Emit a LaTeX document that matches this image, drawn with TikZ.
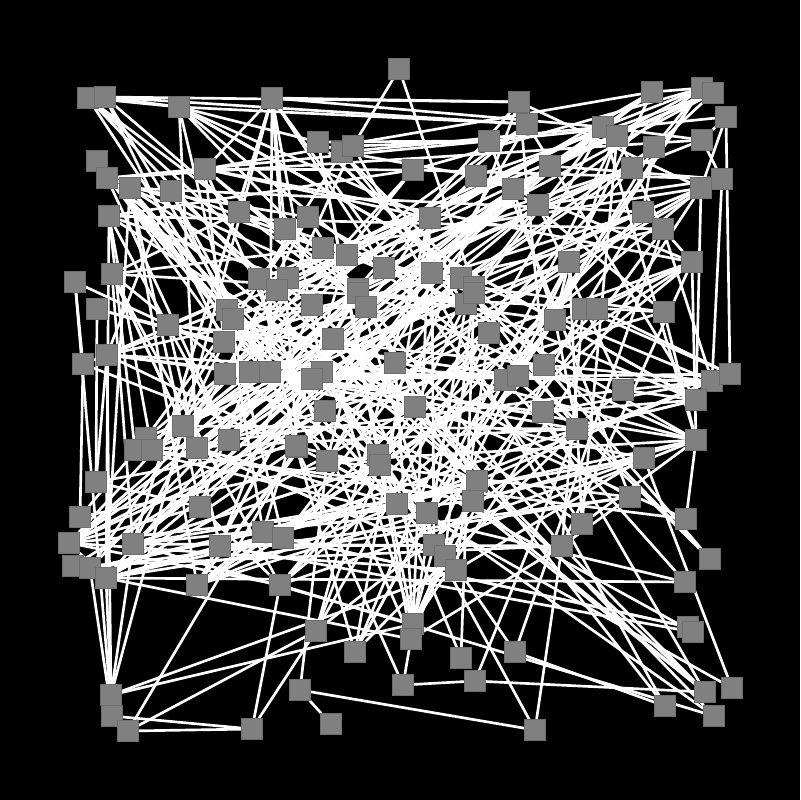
\documentclass[tikz,border=0pt]{standalone}
\usetikzlibrary{backgrounds}
\pgfdeclarelayer{back}
\pgfdeclarelayer{edges}
\pgfsetlayers{back,edges,main}
\definecolor{ndgray}{RGB}{128,128,128}
\definecolor{ndline}{RGB}{110,110,110}
\tikzset{
  nd/.style={rectangle,fill=ndgray,draw=ndline,line width=0.25pt,minimum size=6.3mm,inner sep=0pt},
  edge/.style={white,line width=0.8mm}
}
\begin{document}
\begin{tikzpicture}[x=0.3mm,y=-0.3mm]
\begin{pgfonlayer}{back}
\fill[black] (0,0) rectangle (800,800);
\end{pgfonlayer}
\useasboundingbox (0,0) rectangle (800,800);
\foreach \i/\x/\y in {
1/399/69, 2/88/98, 3/105/97, 4/179/107, 5/272/98, 6/519/102, 7/527/124, 8/652/92, 9/702/88, 10/713/93,
11/726/117, 12/654/147, 13/702/140, 14/722/179, 15/701/188, 16/603/127, 17/617/136, 18/550/166, 19/632/168, 20/643/212,
21/663/229, 22/692/262, 23/569/262, 24/538/205, 25/97/161, 26/107/178, 27/130/188, 28/171/191, 29/205/169, 30/109/216,
31/239/212, 32/285/229, 33/75/282, 34/112/274, 35/259/279, 36/288/278, 37/277/290, 38/318/142, 39/342/152, 40/353/146,
41/413/170, 42/489/141, 43/476/176, 44/513/189, 45/308/217, 46/430/218, 47/323/248, 48/347/255, 49/384/268, 50/432/273,
51/461/278, 52/474/287, 53/358/289, 54/97/309, 55/168/325, 56/227/310, 57/233/319, 58/224/342, 59/83/364, 60/107/355,
61/225/374, 62/250/372, 63/270/372, 64/183/426, 65/146/438, 66/135/450, 67/152/450, 68/197/448, 69/229/440, 70/297/447,
71/96/482, 72/80/517, 73/69/543, 74/73/566, 75/90/568, 76/106/578, 77/133/544, 78/220/546, 79/197/585, 80/280/585,
81/263/532, 82/283/538, 83/200/507, 84/111/695, 85/112/716, 86/128/731, 87/252/729, 88/300/690, 89/434/545, 90/445/556,
91/456/570, 92/413/624, 93/411/639, 94/316/631, 95/355/652, 96/461/658, 97/515/652, 98/475/681, 99/403/685, 100/331/724,
101/535/730, 102/562/546, 103/582/524, 104/710/559, 105/685/582, 106/688/627, 107/693/632, 108/732/688, 109/705/692, 110/714/716,
111/665/706, 112/555/320, 113/583/309, 114/597/309, 115/664/312, 116/544/365, 117/623/390, 118/712/381, 119/730/374, 120/696/400,
121/543/412, 122/577/429, 123/696/440, 124/644/458, 125/630/497, 126/686/519, 127/312/305, 128/358/293, 129/366/307, 130/333/339,
131/395/363, 132/322/372, 133/312/379, 134/466/304, 135/474/293, 136/489/333, 137/505/380, 138/518/376, 139/415/407, 140/325/411,
141/296/446, 142/327/461, 143/378/455, 144/380/465, 145/477/481, 146/473/501, 147/397/504, 148/427/513, 149/555/320}
  \node[nd] (n\i) at (\x,\y) {};
\begin{pgfonlayer}{edges}
\foreach \a/\b in {
1/40, 1/52, 3/4, 2/4, 4/7, 3/6, 3/7, 5/6, 2/35, 3/31, 2/36, 3/58, 2/56, 3/63, 2/129,
4/68, 4/46, 4/38, 5/29, 5/32, 5/49, 5/63, 25/57, 25/62, 26/56, 26/69, 26/47, 27/45, 27/83,
28/63, 28/48, 28/60, 29/8, 29/41, 29/58, 30/67, 30/36, 30/66, 33/59, 33/85, 33/55, 34/47, 34/53, 34/64,
54/71, 54/58, 54/132, 59/72, 59/70, 59/56, 60/84, 60/121, 60/62, 71/83, 71/141, 71/60, 72/65, 72/143,
73/133, 73/146, 73/80, 73/91, 74/140, 74/102, 75/85, 75/125, 75/147, 76/84, 76/78, 76/105, 77/84, 77/124,
78/107, 78/102, 79/148, 79/81, 80/87, 80/110, 80/136, 82/106, 84/64, 84/91, 84/92, 85/87, 86/70, 86/94, 86/87,
87/94, 88/100, 88/101, 88/142, 89/101, 96/143, 98/122, 98/99, 98/109, 99/93, 99/141, 101/102,
104/122, 104/116, 104/50, 105/137, 105/66, 106/82, 107/61, 108/142, 108/124, 109/102, 109/121, 109/146, 109/56, 109/145,
110/139, 110/148, 111/97, 111/131, 111/40, 119/11, 119/113, 119/114, 119/133, 118/14, 118/116, 118/121, 118/117,
120/15, 120/117, 120/122, 123/22, 123/126, 123/146, 22/21, 22/44, 22/136, 11/13, 11/15, 11/42,
9/16, 9/12, 9/8, 10/19, 10/18, 10/43, 9/41, 14/18, 14/24, 15/20, 15/47, 97/21, 96/135, 97/132, 93/145, 92/127, 92/131, 92/46}
  \draw[edge] (n\a) -- (n\b);
\pgfmathsetseed{4242}
\def\pool{{4,5,6,7,8,9,10,12,13,14,15,16,17,18,19,20,21,22,23,24,26,27,28,29,30,31,32,34,35,36,37,38,39,40,41,42,43,44,45,46,47,48,49,50,51,52,53,55,56,57,58,60,61,62,63,64,65,66,67,68,69,70,73,74,75,76,77,78,79,80,81,82,83,89,90,91,92,93,94,95,102,103,112,113,114,115,116,117,118,120,121,122,123,124,125,126,127,128,129,130,131,132,133,134,135,136,137,138,139,140,141,142,143,144,145,146,147,148,149}}
\foreach \k in {1,...,300}{
  \pgfmathtruncatemacro\ra{random(0,118)}
  \pgfmathtruncatemacro\rb{random(0,118)}
  \pgfmathtruncatemacro\a{\pool[\ra]}
  \pgfmathtruncatemacro\b{\pool[\rb]}
  \ifnum\a=\b\relax\else\draw[edge] (n\a) -- (n\b);\fi
}
\end{pgfonlayer}
\end{tikzpicture}
\end{document}
